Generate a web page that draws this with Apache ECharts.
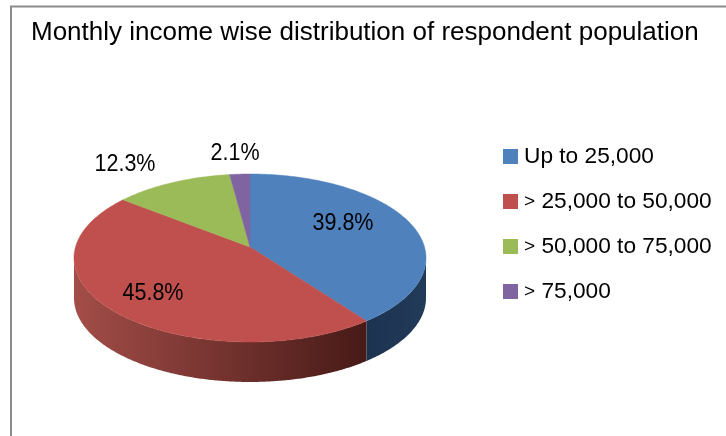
<!DOCTYPE html>
<html>
<head>
<meta charset="utf-8">
<style>html,body{margin:0;padding:0;background:#fff}#chart{width:726px;height:436px}</style>
<script src="https://cdn.jsdelivr.net/npm/echarts@6/dist/echarts.min.js"></script>
</head>
<body>
<div id="chart"></div>
<script>
// Income bands and their share of respondents (percent)
const categories = ['Up to 25,000', '> 25,000 to 50,000', '> 50,000 to 75,000', '> 75,000'];
const shares = [39.8, 45.8, 12.3, 2.1];
const topColors = ['#4f81bd', '#c0504d', '#9bbb59', '#8064a2'];
const wallStops = [['#1c3350', '#223b59'], ['#a34d48', '#471a17'], ['#7d9647', '#5f7236'], ['#67508a', '#4d3c66']];
const labelAnchors = [[343, 224], [153, 294], [125, 165], [235, 154]];
const titleText = 'Monthly income wise distribution of respondent population';

// Tilted disc geometry
const FONT = '"Liberation Sans", Arial, sans-serif';
const disc = { cx: 250, cy: 258, rx: 176, ry: 84, depth: 40, tilt: 0.13 };
const total = shares.reduce((a, b) => a + b, 0);
const RIGHT = Math.PI / 2, LEFT = Math.PI * 1.5;

// Perspective: a flat-disc angle (clockwise from 12 o'clock) to its angle on the drawn ellipse
function rimAngle(theta) {
  const m = disc.tilt, den = 1 + m * Math.cos(theta);
  const s = Math.sin(theta) * Math.sqrt(1 - m * m) / den;
  const c = (Math.cos(theta) + m) / den;
  let t = Math.atan2(s, c);
  if (t < 0) t += Math.PI * 2;
  return t;
}
function rimPoint(t, drop) {
  return [disc.cx + disc.rx * Math.sin(t), disc.cy - disc.ry * Math.cos(t) + (drop || 0)];
}
function arc(t0, t1, drop) {
  const n = Math.max(2, Math.ceil(Math.abs(t1 - t0) / 0.01));
  const pts = [];
  for (let i = 0; i <= n; i++) pts.push(rimPoint(t0 + (t1 - t0) * i / n, drop));
  return pts;
}
function sliceAngles(index) {
  const before = shares.slice(0, index).reduce((a, b) => a + b, 0);
  const a0 = before / total * Math.PI * 2;
  const a1 = (before + shares[index]) / total * Math.PI * 2;
  return [a0 === 0 ? 0 : rimAngle(a0), index === shares.length - 1 ? Math.PI * 2 : rimAngle(a1)];
}

function sliceRenderer(index) {
  return function () {
    const [t0, t1] = sliceAngles(index);
    const children = [];
    // Front wall: only the part of the rim that faces the viewer
    const w0 = Math.max(t0, RIGHT), w1 = Math.min(t1, LEFT);
    if (w1 > w0) {
      const top = arc(w0, w1, 0), bottom = arc(w1, w0, disc.depth);
      children.push({
        type: 'polygon',
        shape: { points: top.concat(bottom) },
        style: {
          fill: new echarts.graphic.LinearGradient(0, 0, 1, 0, [
            { offset: 0, color: wallStops[index][0] },
            { offset: 1, color: wallStops[index][1] }
          ]),
          stroke: null
        },
        silent: true,
        z2: 1
      });
    }
    // Top face: wedge from the foreshortened centre out to the rim
    const apex = [disc.cx, disc.cy - disc.tilt * disc.ry];
    children.push({
      type: 'polygon',
      shape: { points: [apex].concat(arc(t0, t1, 0)) },
      style: { fill: topColors[index], stroke: topColors[index], lineWidth: 0.5 },
      z2: 2
    });
    // Percentage label, slightly condensed
    children.push({
      type: 'text',
      x: labelAnchors[index][0],
      y: labelAnchors[index][1],
      scaleX: 0.915,
      style: {
        text: shares[index].toFixed(1) + '%',
        font: '23.5px ' + FONT,
        fill: '#000',
        align: 'center',
        verticalAlign: 'middle'
      },
      z2: 3
    });
    return { type: 'group', children };
  };
}

const chart = echarts.init(document.getElementById('chart'), null, { renderer: 'canvas' });
chart.setOption({
  animation: false,
  backgroundColor: '#fff',
  title: {
    text: titleText,
    left: 31,
    top: 20,
    padding: 0,
    textStyle: { fontFamily: FONT, fontSize: 26, fontWeight: 'normal', color: '#000' }
  },
  legend: {
    orient: 'vertical',
    left: 503,
    top: 145,
    padding: 0,
    icon: 'rect',
    itemWidth: 15,
    itemHeight: 15,
    itemGap: 22,
    data: categories,
    selectedMode: false,
    // The leading ">" sits a little smaller than the figures after it
    formatter: name => name.startsWith('> ') ? '{gt|>} ' + name.slice(2) : name,
    textStyle: {
      fontFamily: FONT, fontSize: 22.7, color: '#000', padding: [0, 0, 0, 1],
      rich: { gt: { fontFamily: FONT, fontSize: 19, color: '#000' } }
    }
  },
  graphic: [
    { type: 'polyline', silent: true, shape: { points: [[11, 436], [11, 6.5], [726, 6.5]] }, style: { stroke: '#8c8c8c', lineWidth: 2, fill: null } }
  ],
  series: categories.map((name, i) => ({
    type: 'custom',
    name,
    coordinateSystem: 'none',
    itemStyle: { color: topColors[i] },
    data: [shares[i]],
    renderItem: sliceRenderer(i),
    silent: true
  }))
});
</script>
</body>
</html>
